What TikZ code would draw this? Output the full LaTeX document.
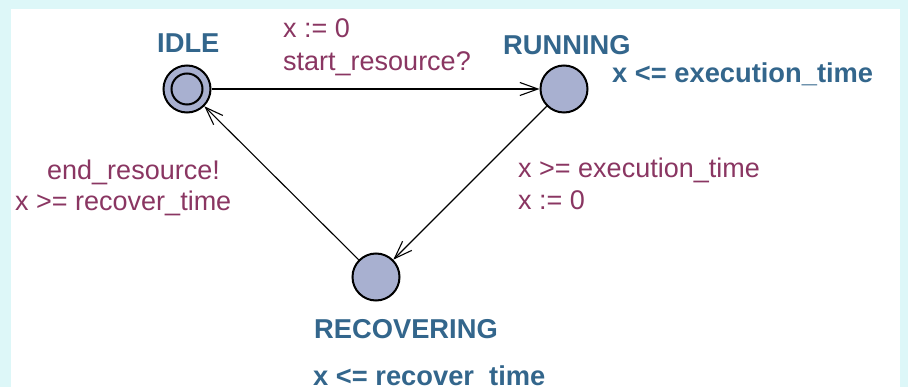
\documentclass[tikz,border=0pt]{standalone}
\usepackage{fontspec}
\setmainfont{Liberation Sans}
\usetikzlibrary{arrows.meta}
\definecolor{bkg}{RGB}{221,247,248}
\definecolor{locfill}{RGB}{168,176,208}
\definecolor{locblue}{RGB}{51,102,140}
\definecolor{guardpurple}{RGB}{138,54,98}

\begin{document}
\begin{tikzpicture}[x=1pt,y=-1pt]
\tikzstyle{location}=[draw=black,circle,fill=locfill,line width=2pt,inner sep=0pt,minimum size=47pt]
\tikzstyle{ring}=[draw=black,circle,line width=2pt,inner sep=0pt,minimum size=31pt]
\tikzstyle{arrow}=[line width=1.1pt,-{Straight Barb[length=18pt,width=13pt]}]
\tikzstyle{loctext}=[anchor=base west,inner sep=0pt,text=locblue,font=\fontsize{27.3}{32}\selectfont\bfseries]
\tikzstyle{guardtext}=[anchor=base west,inner sep=0pt,text=guardpurple,font=\fontsize{27}{33}\selectfont]
\useasboundingbox (0,0) rectangle (908,387);
\fill [bkg] (0,0) rectangle (908,387);
\fill [white] (11,9) rectangle (900,387);
% locations
\node [location] at (187,89) (idle) {};
\node [ring] at (187,89) (idlering) {};
\node [location] at (564,89) (running) {};
\node [location] at (376,277) (recovering) {};
% names and invariants
\node [loctext] at (157,53) (idlename) {IDLE};
\node [loctext] at (503,55) (runningname) {RUNNING};
\node [loctext] at (612,83) (runninginv) {x <= execution\_time};
\node [loctext] at (314,339) (recoveringname) {RECOVERING};
\node [loctext] at (313,385) (recoveringinv) {x <= recover\_time};
% guards, syncs, updates
\node [guardtext] at (283,38) (startassign) {x := 0};
\node [guardtext] at (283,71) (startsync) {start\_resource?};
\node [guardtext] at (518,178) (runguard) {x >= execution\_time};
\node [guardtext] at (518,210) (runassign) {x := 0};
\node [guardtext] at (47,180) (endsync) {end\_resource!};
\node [guardtext] at (15,211) (endguard) {x >= recover\_time};
% transitions
\draw [arrow] (idle) edge (running);
\draw [arrow] (running) edge (recovering);
\draw [arrow] (recovering) edge (idle);
\end{tikzpicture}
\end{document}
